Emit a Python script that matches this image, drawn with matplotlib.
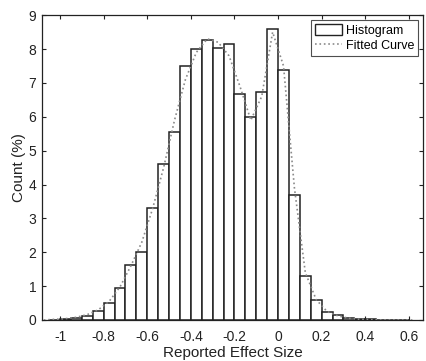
import numpy as np
import matplotlib
matplotlib.use("Agg")
import matplotlib.pyplot as plt
from matplotlib.patches import Patch
from matplotlib.lines import Line2D

# Histogram bin centers (bin width 0.05) and counts (%)
bin_centers = [-1.025, -0.975, -0.925, -0.875, -0.825, -0.775, -0.725, -0.675,
               -0.625, -0.575, -0.525, -0.475, -0.425, -0.375, -0.325, -0.275,
               -0.225, -0.175, -0.125, -0.075, -0.025, 0.025, 0.075, 0.125,
               0.175, 0.225, 0.275, 0.325, 0.375, 0.425, 0.475, 0.525, 0.575]
counts = [0.01, 0.03, 0.07, 0.13, 0.27, 0.49, 0.93, 1.62,
          2.0, 3.3, 4.62, 5.54, 7.5, 8.01, 8.28, 8.03,
          8.15, 6.67, 6.0, 6.73, 8.58, 7.37, 3.69, 1.29,
          0.59, 0.23, 0.14, 0.06, 0.03, 0.02, 0.01, 0.005, 0.005]
bin_width = 0.05

# Fitted curve
curve_x = [-1.075, -1.025, -0.975, -0.925, -0.875, -0.825, -0.775, -0.725,
           -0.675, -0.625, -0.575, -0.525, -0.475, -0.425, -0.375, -0.325,
           -0.275, -0.225, -0.175, -0.125, -0.075, -0.025, 0.025, 0.075,
           0.125, 0.175, 0.225, 0.275, 0.325, 0.375, 0.425, 0.475, 0.525,
           0.575, 0.625]
curve_y = [0.0, 0.02, 0.04, 0.08, 0.16, 0.3, 0.55, 0.98,
           1.6, 2.3, 3.3, 4.5, 5.9, 7.1, 7.9, 8.3,
           8.2, 7.8, 6.9, 5.9, 6.6, 8.5, 7.5, 3.9,
           1.4, 0.6, 0.25, 0.12, 0.05, 0.02, 0.01, 0.0, 0.0,
           0.0, 0.0]

x_ticks = [-1, -0.8, -0.6, -0.4, -0.2, 0, 0.2, 0.4, 0.6]
x_ticklabels = ["-1", "-0.8", "-0.6", "-0.4", "-0.2", "0", "0.2", "0.4", "0.6"]
y_ticks = [0, 1, 2, 3, 4, 5, 6, 7, 8, 9]

plt.rcParams['font.family'] = ['Liberation Sans', 'DejaVu Sans']
plt.rcParams['axes.unicode_minus'] = False
dark = '#222222'

fig = plt.figure(figsize=(4.26, 3.61), dpi=100)
ax = fig.add_axes([0.0986, 0.1136, 0.8944, 0.8444])

ax.bar(bin_centers, counts, width=bin_width, facecolor='white',
       edgecolor=dark, linewidth=1.1, zorder=2)
ax.plot(curve_x, curve_y, linestyle=':', color='#8a8a8a', linewidth=1.2, zorder=3)

ax.set_xlim(-1.083, 0.665)
ax.set_ylim(0, 9)
ax.set_xticks(x_ticks)
ax.set_xticklabels(x_ticklabels)
ax.set_yticks(y_ticks)
ax.tick_params(direction='in', top=True, right=True, length=3, width=0.8,
               colors=dark, labelsize=10)
ax.tick_params(axis='x', pad=7)
ax.tick_params(axis='y', pad=4)
for s in ax.spines.values():
    s.set_color(dark)
    s.set_linewidth(0.9)

ax.set_xlabel("Reported Effect Size", fontsize=11, color=dark, labelpad=1.5)
ax.set_ylabel("Count (%)", fontsize=11, color=dark, labelpad=2)

handles = [Patch(facecolor='white', edgecolor=dark, linewidth=1.0),
           Line2D([0], [0], linestyle=':', color='#8a8a8a', linewidth=1.2)]
leg = ax.legend(handles, ["Histogram", "Fitted Curve"], loc='upper right',
                fontsize=9, frameon=True, fancybox=False, borderpad=0.3,
                handlelength=2.2, handleheight=1.0, handletextpad=0.3,
                labelspacing=0.2, borderaxespad=0.4)
leg.get_frame().set_edgecolor(dark)
leg.get_frame().set_linewidth(0.8)

fig.savefig("out.png", dpi=100)
